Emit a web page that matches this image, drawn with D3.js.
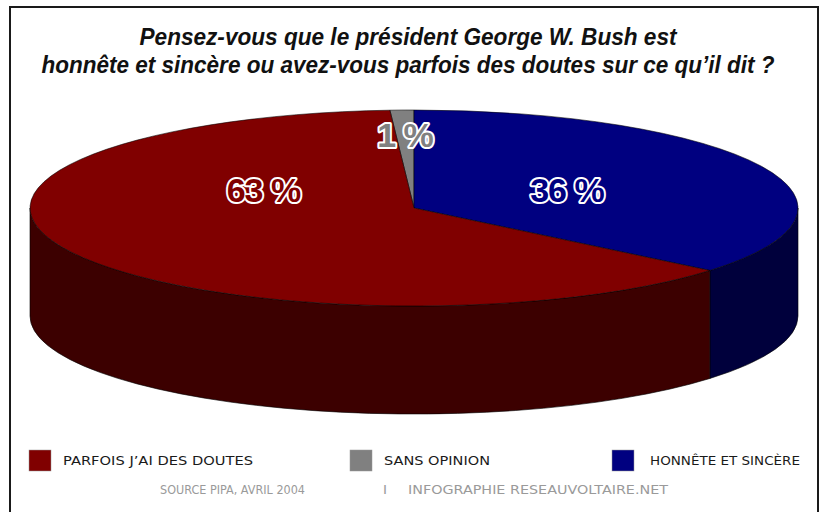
<!DOCTYPE html>
<html><head><meta charset="utf-8">
<script src="https://cdn.jsdelivr.net/npm/d3@7"></script>
<style>body{margin:0;background:#fff}svg{display:block}</style>
</head><body>
<svg id="c" width="826" height="512"></svg>
<script>
// ---- data ----
const categories = ["PARFOIS J’AI DES DOUTES", "SANS OPINION", "HONNÊTE ET SINCÈRE"];
const values = [63, 1, 36];
const valueLabels = ["63 %", "1 %", "36 %"];
const topColors = ["#800000", "#808080", "#000080"];
const sideColors = ["#3c0000", "#505050", "#00003c"];
const pieOrder = [1, 2, 0]; // clockwise from top-left: gray, blue, red
const titleLines = ["Pensez-vous que le président George W. Bush est",
  "honnête et sincère ou avez-vous parfois des doutes sur ce qu’il dit ?"];
const sourceParts = ["SOURCE PIPA, AVRIL 2004", "I", "INFOGRAPHIE RESEAUVOLTAIRE.NET"];

// ---- layout ----
const svg = d3.select("#c");
const W = 826, H = 512;
const cx = 414, cy = 208, rx = 384, ry = 98, depth = 108;

svg.append("rect").attr("x", 10).attr("y", 7).attr("width", 808).attr("height", 530)
  .attr("fill", "#fff").attr("stroke", "#1a1a1a").attr("stroke-width", 2);

// title
const titleG = svg.append("g");
const titleWidths = [537, 733];
titleLines.forEach((t, i) => {
  titleG.append("text").text(t)
    .attr("x", 408).attr("y", 45 + i * 28)
    .attr("text-anchor", "middle")
    .attr("font-family", "'Liberation Sans Narrow','Arial Narrow','Liberation Sans',Arial,sans-serif")
    .attr("font-size", 23).attr("font-weight", "bold").attr("font-style", "italic")
    .attr("fill", "#111")
    .attr("textLength", titleWidths[i]).attr("lengthAdjust", "spacingAndGlyphs");
});

// pie
const data = pieOrder.map(i => ({i, value: values[i]}));
const start = -2 * Math.PI * values[1] / d3.sum(values);
const pie = d3.pie().sort(null).value(d => d.value).startAngle(start).endAngle(start + 2 * Math.PI);
const arcs = pie(data);

const P = (a, dy = 0) => [cx + rx * Math.sin(a), cy - ry * Math.cos(a) + dy];
const fmt = p => p[0].toFixed(2) + "," + p[1].toFixed(2);

function topPath(a0, a1) {
  const large = (a1 - a0) > Math.PI ? 1 : 0;
  return `M${cx},${cy}L${fmt(P(a0))}A${rx},${ry} 0 ${large} 1 ${fmt(P(a1))}Z`;
}
function sidePath(a0, a1) {
  const s = Math.max(a0, Math.PI / 2), e = Math.min(a1, 3 * Math.PI / 2);
  if (e <= s) return null;
  const large = (e - s) > Math.PI ? 1 : 0;
  return `M${fmt(P(s))}A${rx},${ry} 0 ${large} 1 ${fmt(P(e))}` +
    `L${fmt(P(e, depth))}A${rx},${ry} 0 ${large} 0 ${fmt(P(s, depth))}Z`;
}

const pieG = svg.append("g");
arcs.forEach(a => {
  const d = sidePath(a.startAngle, a.endAngle);
  if (d) pieG.append("path").attr("d", d).attr("fill", sideColors[a.data.i])
    .attr("stroke", "#000").attr("stroke-width", 1).attr("stroke-opacity", 0.6).attr("stroke-linejoin", "round");
});
arcs.forEach(a => {
  pieG.append("path").attr("d", topPath(a.startAngle, a.endAngle)).attr("fill", topColors[a.data.i])
    .attr("stroke", "#000").attr("stroke-width", 1).attr("stroke-opacity", 0.55).attr("stroke-linejoin", "round");
});

// labels
arcs.forEach(a => {
  const mid = (a.startAngle + a.endAngle) / 2;
  const small = (a.endAngle - a.startAngle) < 0.2;
  const f = small ? 0.75 : 0.44;
  const x = cx + f * rx * Math.sin(mid);
  let y = cy - f * ry * Math.cos(mid);
  y = Math.min(y, cy - 18);
  svg.append("text").text(valueLabels[a.data.i])
    .attr("x", x).attr("y", y + 12)
    .attr("text-anchor", "middle")
    .attr("font-family", "'Liberation Sans',Arial,sans-serif")
    .attr("font-size", 34).attr("font-weight", "bold")
    .attr("letter-spacing", -1)
    .attr("fill", topColors[a.data.i])
    .attr("stroke", "#fff").attr("stroke-width", 4).attr("stroke-linejoin", "round")
    .attr("paint-order", "stroke");
});

// legend
const legendX = [29, 350, 612];
const legendTextW = [190, 106, 150];
categories.forEach((c, i) => {
  const g = svg.append("g").attr("transform", `translate(${legendX[i]},450)`);
  g.append("rect").attr("width", 22).attr("height", 21).attr("fill", topColors[i])
    .attr("stroke", "#999").attr("stroke-width", 0.5);
  g.append("text").text(c).attr("x", i === 2 ? 38 : 34).attr("y", 15)
    .attr("font-family", "'DejaVu Sans',sans-serif").attr("font-size", 12)
    .attr("fill", "#1a1a1a")
    .attr("textLength", legendTextW[i]).attr("lengthAdjust", "spacingAndGlyphs");
});

// source
const srcX = [160, 383, 408], srcW = [145, 4, 260];
sourceParts.forEach((s, i) => {
  svg.append("text").text(s).attr("x", srcX[i]).attr("y", 494)
    .attr("font-family", "'DejaVu Sans',sans-serif").attr("font-size", 12)
    .attr("fill", "#9a9a9a")
    .attr("textLength", srcW[i]).attr("lengthAdjust", "spacingAndGlyphs");
});
</script>
</body></html>
